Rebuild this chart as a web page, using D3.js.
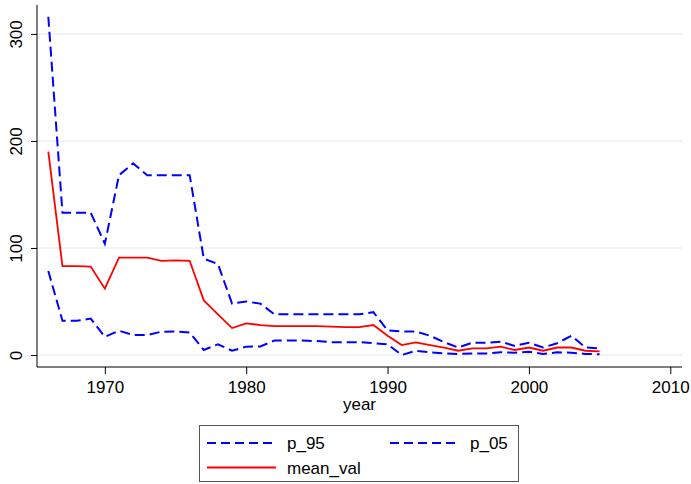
<!DOCTYPE html>
<html>
<head>
<meta charset="utf-8">
<script src="https://cdn.jsdelivr.net/npm/d3@7"></script>
<style>
body{margin:0;background:#fff;}
svg{display:block;font-family:Arial,"Liberation Sans",Helvetica,sans-serif;}
</style>
</head>
<body>
<svg id="chart" width="691" height="484"></svg>
<script>
const years = d3.range(1966, 2006);
const p_95 = [316,133,133,133,104,168,179,168,168,168,168,90,85,48,50,48,38,38,38,38,38,38,38,40,23,22,22,18,12,7,11.5,11.5,12.5,8.5,11.5,7,11,18,7,6.2];
const mean_val = [190,83,83,82.6,62,91,91,91,88,88.5,88,51,38,25.2,29.6,28,27,27,27,27,26.5,26,26,28,18,9.3,11.8,9.3,7,4,6.2,6.2,7.8,4.7,7,4,7,7,4,3.4];
const p_05 = [78.5,32,32,34,17,22.7,18.7,18.7,21.8,22,21,4.7,10,4,7.8,8,13.5,13.5,13.5,13,12,12,12,11,10,0,4,2.5,1.5,1,1.5,1.5,2.5,2.2,3,1,2.5,2.2,1,0.7];
const xTicks = [1970,1980,1990,2000,2010];
const yTicks = [0,100,200,300];
const seriesNames = ["p_95","p_05","mean_val"];

const svg = d3.select("#chart");
const L = 37, R = 682, T = 5, B = 367;
const x = d3.scaleLinear().domain([1965.2, 2010.83]).range([L, R]);
const y = d3.scaleLinear().domain([-11.2, 327]).range([B, T]);

// gridlines
svg.append("g").selectAll("line").data(yTicks).join("line")
  .attr("x1", L).attr("x2", R)
  .attr("y1", d => y(d)).attr("y2", d => y(d))
  .attr("stroke", "#eaf2f3").attr("stroke-width", 1.5);

// y axis
const yAxis = svg.append("g").attr("transform", `translate(${L},0)`)
  .call(d3.axisLeft(y).tickValues(yTicks).tickSize(6).tickPadding(0).tickFormat(d3.format("d")));
yAxis.select(".domain").attr("d", `M0,${T}V${B}`).attr("stroke", "#000");
yAxis.selectAll(".tick line").attr("stroke", "#000");
yAxis.selectAll(".tick text").attr("transform", "translate(-15,0) rotate(-90)")
  .attr("x", 0).attr("dy", "0").attr("text-anchor", "middle")
  .attr("font-size", 17).attr("fill", "#000");

// x axis
const xAxis = svg.append("g").attr("transform", `translate(0,${B})`)
  .call(d3.axisBottom(x).tickValues(xTicks).tickSize(7).tickPadding(7).tickFormat(d3.format("d")));
xAxis.select(".domain").attr("d", `M${L},0H${R}`).attr("stroke", "#000");
xAxis.selectAll(".tick line").attr("stroke", "#000");
xAxis.selectAll(".tick text").attr("font-size", 17).attr("fill", "#000").attr("dy", "0.71em");

svg.append("text").attr("x", (L + R) / 2).attr("y", 410).attr("text-anchor", "middle")
  .attr("font-size", 17).text("year");

const line = d3.line().x((d, i) => x(years[i])).y(d => y(d));
svg.append("path").datum(p_95).attr("d", line).attr("fill", "none")
  .attr("stroke", "#0000ff").attr("stroke-width", 2).attr("stroke-dasharray", "10,5");
svg.append("path").datum(p_05).attr("d", line).attr("fill", "none")
  .attr("stroke", "#0000ff").attr("stroke-width", 2).attr("stroke-dasharray", "10,5");
svg.append("path").datum(mean_val).attr("d", line).attr("fill", "none")
  .attr("stroke", "#ff0000").attr("stroke-width", 1.8);

// legend
const lg = svg.append("g");
lg.append("rect").attr("x", 199.5).attr("y", 425.5).attr("width", 319).attr("height", 56)
  .attr("fill", "#fff").attr("stroke", "#555").attr("stroke-width", 1);
const items = [
  {name: seriesNames[0], x: 207, y: 443, color: "#0000ff", dash: "9,5"},
  {name: seriesNames[1], x: 390, y: 443, color: "#0000ff", dash: "9,5"},
  {name: seriesNames[2], x: 207, y: 467.5, color: "#ff0000", dash: null}
];
items.forEach(it => {
  lg.append("line").attr("x1", it.x).attr("x2", it.x + 69).attr("y1", it.y).attr("y2", it.y)
    .attr("stroke", it.color).attr("stroke-width", 2).attr("stroke-dasharray", it.dash);
  lg.append("text").attr("x", it.x + 80).attr("y", it.y + 6).attr("font-size", 17).text(it.name);
});
</script>
</body>
</html>
